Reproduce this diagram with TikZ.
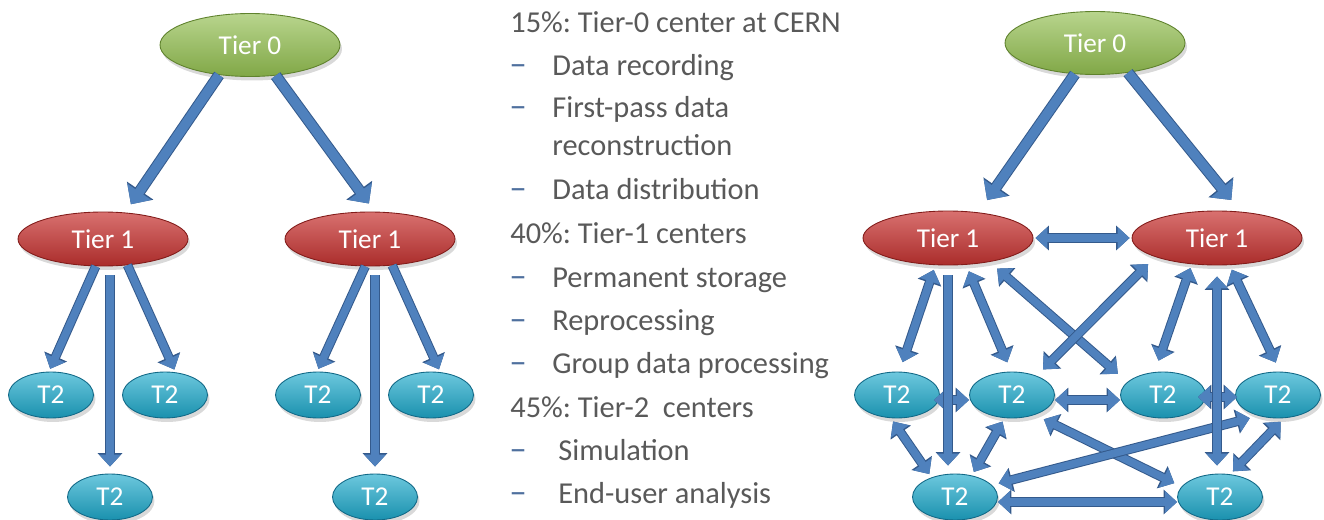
\documentclass[tikz,border=0pt]{standalone}
\usepackage{fontspec}
\setmainfont{Carlito}
\frenchspacing
\usetikzlibrary{shapes.geometric,arrows.meta,shadows,calc}

\definecolor{linkblue}{RGB}{79,129,189}
\definecolor{linkedge}{RGB}{52,90,140}
\definecolor{tzgreen}{RGB}{146,190,80}
\definecolor{tzgreenedge}{RGB}{95,130,45}
\definecolor{tored}{RGB}{200,52,50}
\definecolor{toredge}{RGB}{130,28,26}
\definecolor{ttcyan}{RGB}{30,170,204}
\definecolor{ttcyanedge}{RGB}{18,105,135}
\definecolor{bodygray}{RGB}{89,89,89}
\definecolor{dashblue}{RGB}{79,112,158}

\tikzset{
  center/.style={ellipse, inner sep=0pt, text=white, line width=0.5pt,
    font=\fontsize{15.5}{18}\selectfont,
    drop shadow={opacity=0.3, shadow xshift=0.4mm, shadow yshift=-0.8mm}},
  tierzero/.style={center, minimum width=3.6cm, minimum height=1.26cm,
    top color=tzgreen!65!white, middle color=tzgreen, bottom color=tzgreen!88!black, draw=tzgreenedge},
  tierone/.style={center, minimum width=3.4cm, minimum height=1.08cm,
    top color=tored!70!white, middle color=tored, bottom color=tored!85!black, draw=toredge},
  tiertwo/.style={center, minimum width=1.7cm, minimum height=0.92cm,
    top color=ttcyan!65!white, middle color=ttcyan, bottom color=ttcyan!85!black, draw=ttcyanedge},
  bigway/.style={draw=linkblue, line width=1.9mm, -{Triangle[width=5.6mm,length=3mm]},
    preaction={draw=linkedge, line width=2.3mm, -{Triangle[width=6.2mm,length=3.3mm]}}},
  oneway/.style={draw=linkblue, line width=1.5mm, -{Triangle[width=4.2mm,length=2.4mm]},
    preaction={draw=linkedge, line width=1.9mm, -{Triangle[width=4.8mm,length=2.7mm]}}},
  twoway/.style={draw=linkblue, line width=1.5mm,
    {Triangle[width=4.2mm,length=2.4mm]}-{Triangle[width=4.2mm,length=2.4mm]},
    preaction={draw=linkedge, line width=1.9mm,
      {Triangle[width=4.8mm,length=2.7mm]}-{Triangle[width=4.8mm,length=2.7mm]}}},
  bodytext/.style={anchor=base west, inner sep=0pt, text=bodygray,
    font=\fontsize{17.3}{20}\selectfont},
  dashmark/.style={anchor=base west, inner sep=0pt, text=dashblue,
    font=\fontsize{20}{20}\selectfont},
}

\begin{document}
\begin{tikzpicture}[x=0.02cm, y=-0.02cm]
\useasboundingbox (0,0) rectangle (1324,520);

% ---------- strict hierarchy ----------
\node[tierzero] (L0)  at (250,45)  {Tier 0};
\node[tierone]  (L1a) at (103,239) {Tier 1};
\node[tierone]  (L1b) at (370,239) {Tier 1};
\node[tiertwo]  (L2a) at (51,395)  {T2};
\node[tiertwo]  (L2b) at (165,395) {T2};
\node[tiertwo]  (L2c) at (110,497) {T2};
\node[tiertwo]  (L2d) at (318,395) {T2};
\node[tiertwo]  (L2e) at (431,395) {T2};
\node[tiertwo]  (L2f) at (375,497) {T2};

\draw[bigway, shorten >=2mm] (L0.224) -- (L1a.50);
\draw[bigway, shorten >=2mm] (L0.310) -- (L1b.80);

\draw[oneway, shorten >=0.6mm] (L1a.255) -- (L2a.95);
\draw[oneway, shorten >=0.6mm] (L1a.313) -- (L2b.65);
\draw[oneway, shorten <=1.8mm, shorten >=1.4mm] (L1a.south -| L2c.north) -- (L2c.north);

\draw[oneway, shorten >=0.6mm] (L1b.260) -- (L2d.92);
\draw[oneway, shorten >=0.6mm] (L1b.310) -- (L2e.68);
\draw[oneway, shorten <=1.8mm, shorten >=1.4mm] (L1b.south -| L2f.north) -- (L2f.north);

% ---------- description ----------
\node[bodytext] (h0) at (510,33)  {15\%: Tier-0 center at CERN};
\node[dashmark] (d1) at (509,76)  {–};
\node[bodytext] (t1) at (552,76)  {Data recording};
\node[dashmark] (d2) at (509,118) {–};
\node[bodytext] (t2) at (552,118) {First-pass data};
\node[bodytext] (t3) at (552,156) {reconstruction};
\node[dashmark] (d4) at (509,199) {–};
\node[bodytext] (t4) at (552,199) {Data distribution};
\node[bodytext] (h1) at (510,243) {40\%: Tier-1 centers};
\node[dashmark] (d5) at (509,287) {–};
\node[bodytext] (t5) at (552,287) {Permanent storage};
\node[dashmark] (d6) at (509,330) {–};
\node[bodytext] (t6) at (552,330) {Reprocessing};
\node[dashmark] (d7) at (509,373) {–};
\node[bodytext] (t7) at (552,373) {Group data processing};
\node[bodytext] (h2) at (510,417) {45\%: Tier-2~ centers};
\node[dashmark] (d8) at (509,460) {–};
\node[bodytext] (t8) at (558,460) {Simulation};
\node[dashmark] (d9) at (509,503) {–};
\node[bodytext] (t9) at (558,503) {End-user analysis};

% ---------- meshed model ----------
\node[tierzero] (R0)  at (1095,43)  {Tier 0};
\node[tierone]  (R1a) at (948,238)  {Tier 1};
\node[tierone]  (R1b) at (1217,238) {Tier 1};
\node[tiertwo]  (R2a) at (897,395)  {T2};
\node[tiertwo]  (R2b) at (1012,395) {T2};
\node[tiertwo]  (R2c) at (1163,395) {T2};
\node[tiertwo]  (R2d) at (1278,395) {T2};
\node[tiertwo]  (R2e) at (955,497)  {T2};
\node[tiertwo]  (R2f) at (1220,497) {T2};

\draw[bigway, shorten >=3mm] (R0.237) -- (R1a.40);
\draw[bigway, shorten >=3mm] (R0.318) -- (R1b.48);

\draw[twoway, shorten <=0.4mm, shorten >=0.4mm] (R1a.east) -- (R1b.west);

\draw[twoway, shorten <=1mm, shorten >=2mm] (R1a.245) -- (R2a.84);
\draw[twoway, shorten <=1.4mm, shorten >=2mm] (R1a.304) -- (R2b.92);
\draw[twoway, shorten <=2mm, shorten >=2.5mm] (R1a.330) -- (R2c.160);
\draw[twoway, shorten <=2mm, shorten >=1.8mm] (R1b.197) -- (R2b.38);
\draw[twoway, shorten <=0.8mm, shorten >=2.4mm] (R1b.226) -- (R2c.110);
\draw[twoway, shorten <=1mm, shorten >=2mm] (R1b.295) -- (R2d.85);

\draw[twoway, shorten <=0.8mm, shorten >=0.8mm] (R2a.255) -- (R2e.140);
\draw[twoway, shorten <=0.8mm, shorten >=0.8mm] (R2b.252) -- (R2e.52);
\draw[twoway, shorten <=2mm, shorten >=1.6mm] (R2b.319) -- (R2f.165);
\draw[twoway, shorten <=1.4mm, shorten >=1.8mm] (R2e.18) -- (R2d.227);
\draw[twoway, shorten <=0.8mm, shorten >=1mm] (R2f.66) -- (R2d.285);

\draw[twoway, shorten <=-1.2mm] ([yshift=-1mm]R2a.east) -- ([yshift=-1mm]R2b.west);
\draw[twoway] ([yshift=-1mm]R2b.east) -- ([yshift=-1mm]R2c.west);
\draw[twoway, shorten <=-1.6mm, shorten >=-0.4mm] ([yshift=-0.4mm]R2c.east) -- ([yshift=-0.4mm]R2d.west);
\draw[twoway] ([yshift=-1mm]R2e.east) -- ([yshift=-1mm]R2f.west);

\draw[oneway, shorten <=2mm, shorten >=1.6mm] (R1a.south) -- (R1a.south |- R2e.north);
\draw[twoway, shorten <=2.2mm, shorten >=1.6mm] (R1b.south) -- (R1b.south |- R2f.north);
\end{tikzpicture}
\end{document}
